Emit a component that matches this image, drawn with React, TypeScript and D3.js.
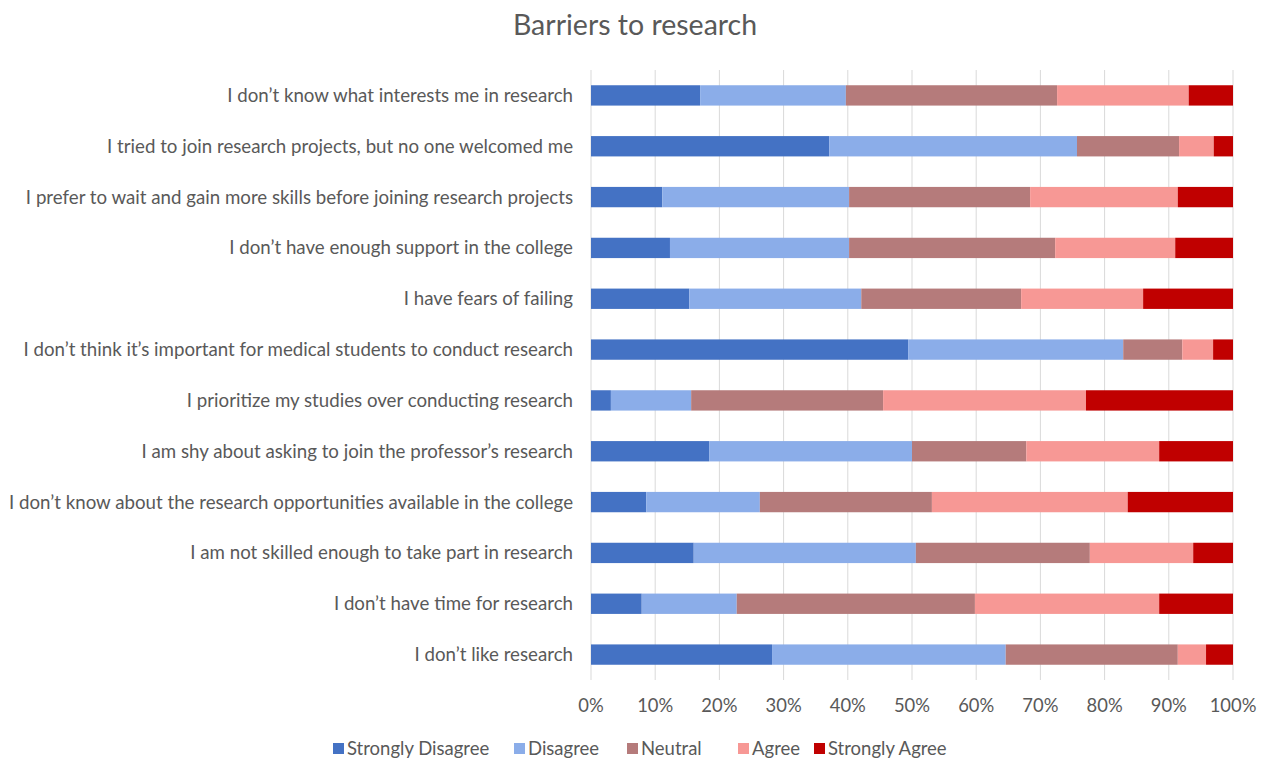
import React from "react";
import * as d3 from "d3";

const categories = [
  "I don\u2019t know what interests me in research",
  "I tried to join research projects, but no one welcomed me",
  "I prefer to wait and gain more skills before joining research projects",
  "I don\u2019t have enough support in the college",
  "I have fears of failing",
  "I don\u2019t think it\u2019s important for medical students to conduct research",
  "I prioritize my studies over conducting research",
  "I am shy about asking to join the professor\u2019s research",
  "I don\u2019t know about the research opportunities available in the college",
  "I am not skilled enough to take part in research",
  "I don\u2019t have time for research",
  "I don\u2019t like research",
];

const seriesNames = ["Strongly Disagree", "Disagree", "Neutral", "Agree", "Strongly Agree"];
const seriesColors = ["#4472C4", "#8BADE9", "#B57B7B", "#F79895", "#C00000"];

const stronglyDisagree = [17.0, 37.1, 11.1, 12.3, 15.3, 49.4, 3.1, 18.4, 8.6, 16.0, 7.9, 28.2];
const disagree = [22.7, 38.6, 29.1, 27.9, 26.8, 33.5, 12.5, 31.6, 17.7, 34.6, 14.8, 36.4];
const neutral = [32.9, 15.9, 28.2, 32.1, 24.9, 9.2, 29.9, 17.8, 26.8, 27.1, 37.1, 26.8];
const agree = [20.5, 5.4, 23.0, 18.7, 19.0, 4.8, 31.6, 20.7, 30.5, 16.1, 28.7, 4.4];
const stronglyAgree = [6.9, 3.0, 8.6, 9.0, 14.0, 3.1, 22.9, 11.5, 16.4, 6.2, 11.5, 4.2];

const xTicks = [0, 10, 20, 30, 40, 50, 60, 70, 80, 90, 100];

export default function App() {
  const W = 1266, H = 760;
  const left = 591, right = 1233, top = 70, bottom = 680;
  const font = "Lato, 'Open Sans', sans-serif";
  const textColor = "#595959";

  const rows = categories.map((c, i) => ({
    cat: c,
    "Strongly Disagree": stronglyDisagree[i],
    Disagree: disagree[i],
    Neutral: neutral[i],
    Agree: agree[i],
    "Strongly Agree": stronglyAgree[i],
  }));
  const stack = d3.stack<any>().keys(seriesNames).offset(d3.stackOffsetExpand)(rows);

  const x = d3.scaleLinear().domain([0, 1]).range([left, right]);
  const y = d3.scaleBand().domain(categories).range([top, bottom]).paddingInner(0.6).paddingOuter(0.3);

  const legendX = [333, 514, 627, 738, 814];

  return (
    <svg width={W} height={H} style={{ position: "absolute", left: 0, top: 0, background: "#fff" }} fontFamily={font}>
      <rect width={W} height={H} fill="#fff" />
      <text x={635} y={35} textAnchor="middle" fontSize={28.5} fill={textColor}>Barriers to research</text>
      {xTicks.map((t) => (
        <line key={t} x1={x(t / 100)} x2={x(t / 100)} y1={top} y2={bottom} stroke="#D9D9D9" strokeWidth={1} />
      ))}
      {stack.map((s, si) => (
        <g key={si} fill={seriesColors[si]}>
          {s.map((d: any, i: number) => (
            <rect key={i} x={x(d[0])} width={x(d[1]) - x(d[0])} y={y(categories[i])!} height={y.bandwidth()} />
          ))}
        </g>
      ))}
      {categories.map((c) => (
        <text key={c} x={573} y={y(c)! + y.bandwidth() / 2} dy="0.35em" textAnchor="end" fontSize={18.7} fill={textColor}>{c}</text>
      ))}
      {xTicks.map((t) => (
        <text key={t} x={x(t / 100)} y={712} textAnchor="middle" fontSize={18.4} fill={textColor}>{t}%</text>
      ))}
      {seriesNames.map((n, i) => (
        <g key={n} transform={`translate(${legendX[i]},749)`}>
          <rect x={0} y={-6} width={11} height={11} fill={seriesColors[i]} />
          <text x={14} y={0} dy="0.35em" fontSize={18.5} fill={textColor}>{n}</text>
        </g>
      ))}
    </svg>
  );
}
